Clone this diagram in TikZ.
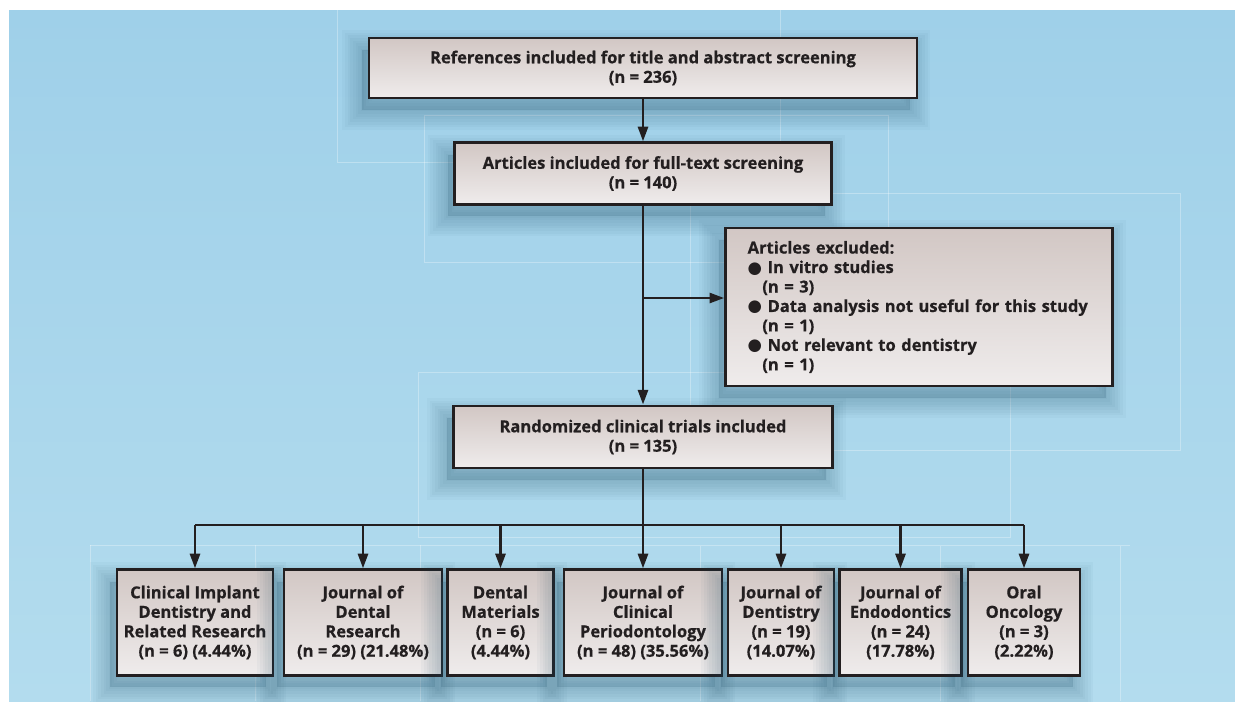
\documentclass[tikz,border=0pt]{standalone}
\usepackage{fontspec}
\setmainfont{Open Sans}[BoldFeatures={FakeBold=0.6}]
\newfontfamily\symfont{DejaVu Sans}
\usetikzlibrary{positioning,arrows.meta,calc}
\definecolor{skytop}{HTML}{9FD0E9}
\definecolor{skybot}{HTML}{B3DCEE}
\definecolor{boxtop}{HTML}{D2C7C4}
\definecolor{boxbot}{HTML}{EFECEC}
\definecolor{ink}{HTML}{231F20}
\definecolor{shade}{HTML}{1F4E66}
\tikzset{
  shadowring/.style={preaction={draw=shade, draw opacity=0.035, line width=#1,
    transform canvas={shift={(-5pt,-9pt)}}}},
  flowbox/.style={draw=ink, line width=2.2pt, top color=boxtop, bottom color=boxbot,
    align=center, inner sep=0pt, text=ink, font=\bfseries\fontsize{12.4}{14.6}\selectfont,
    shadowring=30pt, shadowring=26pt, shadowring=22pt, shadowring=18pt,
    shadowring=14pt, shadowring=10pt, shadowring=6pt, shadowring=2pt,
    preaction={fill=shade, fill opacity=0.18, transform canvas={shift={(-5pt,-9pt)}}}},
  flowline/.style={draw=ink, line width=2pt},
  flowarrow/.style={flowline, -{Triangle[length=11pt,width=7.5pt]}},
  ghost/.style={draw=white, draw opacity=0.3, line width=0.6pt}
}
\newcommand{\blt}{{\symfont\char"25CF}\ }

\begin{document}
\begin{tikzpicture}[x=0.75pt,y=-0.75pt]
      \useasboundingbox (0,0) rectangle (1235,701);
      \shade[top color=skytop, bottom color=skybot] (9,10) rectangle (1235,701);
      \draw[ghost] (337,10) -- (337,162) -- (780,162) -- (780,10);
      \draw[ghost] (424,115) rectangle (888,262);
      \draw[ghost] (690,193) rectangle (1180,450);
      \draw[ghost] (418,372) rectangle (1010,537);
      \draw[ghost] (90,545) -- (90,701) (255,545) -- (255,701) (420,545) -- (420,701);
      \draw[ghost] (90,545) -- (1130,545) (700,545) -- (700,701) (940,545) -- (940,701) (1120,545) -- (1120,701);

      \node[flowbox, minimum width=411pt, minimum height=45pt] (refs) at (643,68)
        {References included for title and abstract screening\\(n = 236)};
      \node[flowbox, minimum width=283pt, minimum height=46pt] (fulltext) at (643,173.5)
        {Articles included for full-text screening\\(n = 140)};
      \node[flowbox, align=left, text width=257pt, inner xsep=16.5pt, minimum height=118.5pt] (excluded) at (919,307)
        {Articles excluded:\\
         \blt In vitro studies\\
         \hspace*{11pt}(n = 3)\\
         \blt Data analysis not useful for this study\\
         \hspace*{11pt}(n = 1)\\
         \blt Not relevant to dentistry\\
         \hspace*{11pt}(n = 1)};
      \node[flowbox, minimum width=284pt, minimum height=46.5pt] (rct) at (643,437)
        {Randomized clinical trials included\\(n = 135)};

      \node[flowbox, minimum width=117pt, minimum height=79pt] (cidrr) at (195,622.5)
        {Clinical Implant\\Dentistry and\\Related Research\\(n = 6) (4.44\%)};
      \node[flowbox, minimum width=118.5pt, minimum height=79pt] (jdr) at (363,622.5)
        {Journal of\\Dental\\Research\\(n = 29) (21.48\%)};
      \node[flowbox, minimum width=79pt, minimum height=79pt] (dmat) at (500.5,622.5)
        {Dental\\Materials\\(n = 6)\\(4.44\%)};
      \node[flowbox, minimum width=118.5pt, minimum height=79pt] (jcp) at (643,622.5)
        {Journal of\\Clinical\\Periodontology\\(n = 48) (35.56\%)};
      \node[flowbox, minimum width=79.5pt, minimum height=79pt] (jdent) at (781,622.5)
        {Journal of\\Dentistry\\(n = 19)\\(14.07\%)};
      \node[flowbox, minimum width=91pt, minimum height=79pt] (joe) at (900.5,622.5)
        {Journal of\\Endodontics\\(n = 24)\\(17.78\%)};
      \node[flowbox, minimum width=84pt, minimum height=79pt] (oonc) at (1024,622.5)
        {Oral\\Oncology\\(n = 3)\\(2.22\%)};

      \coordinate (split) at (643,298);
      \coordinate (bar) at (643,525);
      \draw[flowarrow] (refs) -- (fulltext);
      \draw[flowarrow] (fulltext) -- (rct);
      \draw[flowarrow] (split) -- (excluded.west |- split);
      \draw[flowline] (rct) -- (bar);
      \draw[flowline] (cidrr.north |- bar) -- (oonc.north |- bar);
      \foreach \j in {cidrr,jdr,dmat,jcp,jdent,joe,oonc}
        \draw[flowarrow] (\j.north |- bar) -- (\j.north);
\end{tikzpicture}
\end{document}
